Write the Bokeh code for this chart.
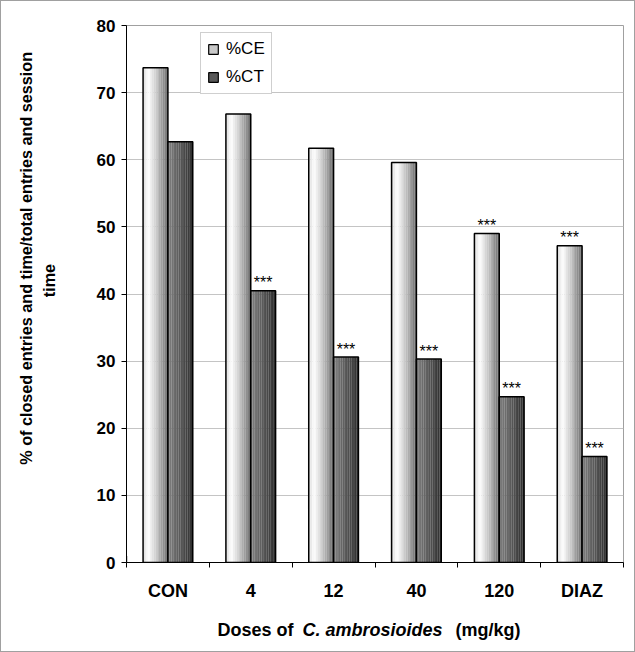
import numpy as np
from bokeh.plotting import figure
from bokeh.layouts import row, column
from bokeh.models import Range1d, FixedTicker, Legend, LegendItem
from bokeh.embed import file_html
from bokeh.resources import INLINE
from bokeh.core.properties import value

# ---------------- data ----------------
categories = ["CON", "4", "12", "40", "120", "DIAZ"]
series_names = ["%CE", "%CT"]
ce_values = [73.7, 66.8, 61.7, 59.6, 49.0, 47.2]
ct_values = [62.7, 40.5, 30.6, 30.3, 24.7, 15.8]
ce_sig = ["", "", "", "", "***", "***"]
ct_sig = ["", "***", "***", "***", "***", "***"]
y_ticks = [0, 10, 20, 30, 40, 50, 60, 70, 80]
y_title_lines = ["% of closed entries and time/total entries and session", "time"]
x_title_parts = ["Doses of", "C. ambrosioides", "(mg/kg)"]

FONT = "Liberation Sans"
TOTAL_W, TOTAL_H = 633, 650   # + 1px border on each side
YT_W = 77          # width of the y-title strip
XT_H = 48          # height of the x-title strip
MAIN_W = TOTAL_W - YT_W
MAIN_H = TOTAL_H - XT_H

p = figure(width=MAIN_W, height=MAIN_H, output_backend="svg", toolbar_location=None,
           x_range=Range1d(0, len(categories)), y_range=Range1d(0, 80),
           min_border_left=48, min_border_right=11, min_border_top=24,
           min_border_bottom=41)
p.outline_line_color = "#a0a0a0"
p.outline_line_width = 1
p.background_fill_color = "white"
p.border_fill_color = "white"

# ---------------- axes ----------------
centers = [i + 0.5 for i in range(len(categories))]
p.xaxis.ticker = FixedTicker(ticks=centers, minor_ticks=list(range(len(categories) + 1)))
p.xaxis.major_label_overrides = {c: cat for c, cat in zip(centers, categories)}
p.xaxis.major_tick_out = 0
p.xaxis.major_tick_in = 0
p.xaxis.minor_tick_out = 5
p.xaxis.minor_tick_in = 0
p.xaxis.minor_tick_line_color = "black"
p.xaxis.major_label_standoff = 13
p.xaxis.major_label_text_font = FONT
p.xaxis.major_label_text_font_style = "bold"
p.xaxis.major_label_text_font_size = "18px"
p.xaxis.major_label_text_color = "black"

p.yaxis.ticker = FixedTicker(ticks=y_ticks, minor_ticks=[])
p.yaxis.major_tick_out = 5
p.yaxis.major_tick_in = 0
p.yaxis.minor_tick_out = 0
p.yaxis.minor_tick_in = 0
p.yaxis.major_label_standoff = 6
p.yaxis.major_label_text_font = FONT
p.yaxis.major_label_text_font_style = "bold"
p.yaxis.major_label_text_font_size = "17px"
p.yaxis.major_label_text_color = "black"

for ax in (p.xaxis, p.yaxis):
    ax.axis_line_color = "black"
    ax.axis_line_width = 1
    ax.major_tick_line_color = "black"

p.xgrid.visible = False
p.ygrid.grid_line_color = "#c4c4c4"
p.ygrid.grid_line_width = 1


# ---------------- bars (gradient via thin stripes) ----------------
def interp_color(stops, t):
    for (t0, c0), (t1, c1) in zip(stops[:-1], stops[1:]):
        if t0 <= t <= t1:
            f = (t - t0) / (t1 - t0) if t1 > t0 else 0
            c = [int(round(a + (b - a) * f)) for a, b in zip(c0, c1)]
            return "#%02x%02x%02x" % tuple(c)
    c = stops[-1][1]
    return "#%02x%02x%02x" % tuple(c)


ce_stops = [(0.0, (215, 215, 215)), (0.22, (255, 255, 255)), (0.55, (200, 200, 200)), (1.0, (105, 105, 105))]
ct_stops = [(0.0, (125, 125, 125)), (0.15, (118, 118, 118)), (1.0, (45, 45, 45))]

bw = 0.3
n_str = 14
sw = bw / n_str
series = [(ce_values, ce_sig, ce_stops, -bw / 2), (ct_values, ct_sig, ct_stops, bw / 2)]

for vals, sig, stops, off in series:
    for k in range(n_str):
        col = interp_color(stops, (k + 0.5) / n_str)
        xs = [c + off - bw / 2 + (k + 0.5) * sw for c in centers]
        p.vbar(x=xs, top=vals, bottom=0, width=sw * 1.05, fill_color=col,
               line_color=None)
    p.vbar(x=[c + off for c in centers], top=vals, bottom=0, width=bw,
           fill_color=None, line_color="black", line_width=1.5)
    p.text(x=[c + off for c in centers], y=vals, text=sig, text_align="center",
           text_baseline="alphabetic", y_offset=-8, text_font=value(FONT),
           text_font_size="16px", text_color="black")

# legend swatches (drawn off-range so only the legend shows them)
r_ce = p.vbar(x=[-10], top=[1], width=0.1, fill_color="#c8c8c8", line_color="black", line_width=1.2)
r_ct = p.vbar(x=[-10], top=[1], width=0.1, fill_color="#585858", line_color="black", line_width=1.2)
legend = Legend(items=[LegendItem(label=series_names[0], renderers=[r_ce]),
                       LegendItem(label=series_names[1], renderers=[r_ct])],
                location=(74, 468))
legend.label_text_font = FONT
legend.label_text_font_size = "17px"
legend.label_text_color = "black"
legend.glyph_width = 12
legend.glyph_height = 12
legend.label_standoff = 7
legend.label_height = 20
legend.spacing = 8
legend.padding = 6
legend.margin = 0
legend.border_line_color = "#a0a0a0"
legend.border_line_width = 1
legend.background_fill_color = "white"
legend.background_fill_alpha = 1
p.add_layout(legend)


# ---------------- title strips ----------------
def text_strip(w, h):
    f = figure(width=w, height=h, output_backend="svg", toolbar_location=None,
               x_range=Range1d(0, w), y_range=Range1d(0, h),
               x_axis_location=None, y_axis_location=None,
               min_border=0)
    f.outline_line_color = None
    f.grid.visible = False
    f.background_fill_color = "white"
    f.border_fill_color = "white"
    return f


# y title (two rotated lines)
yfig = text_strip(YT_W, MAIN_H)
yfig.text(x=[24, 47], y=[341, 316], text=y_title_lines, angle=np.pi / 2,
          text_align="center", text_baseline="middle", text_font=value(FONT),
          text_font_style="bold", text_font_size="16.2px", text_color="black")

# x title (mixed upright / italic)
xfig = text_strip(TOTAL_W, XT_H)
x_parts_pos = [216, 301, 454]
x_parts_style = ["bold", "bold italic", "bold"]
for txt, xp, st in zip(x_title_parts, x_parts_pos, x_parts_style):
    xfig.text(x=[xp], y=[22], text=[txt], text_align="left",
              text_baseline="alphabetic", text_font=value(FONT),
              text_font_style=st, text_font_size="18px", text_color="black")

layout = column(row(yfig, p, spacing=0), xfig, spacing=0,
                styles={"border": "1px solid #a0a0a0"})

open("out.html", "w").write(file_html(layout, INLINE))
